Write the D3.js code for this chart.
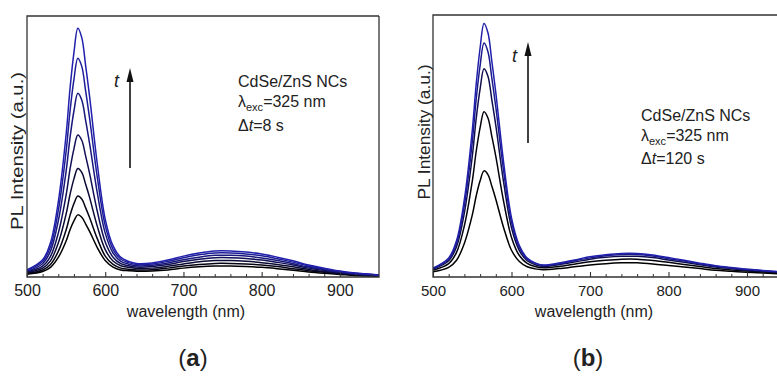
<!DOCTYPE html>
<html>
<head>
<meta charset="utf-8">
<script src="https://cdn.jsdelivr.net/npm/d3@7"></script>
<style>
  html, body { margin: 0; padding: 0; background: #fff; overflow: hidden; }
  svg { display: block; }
  text { font-family: "Liberation Sans", Arial, sans-serif; fill: #222; }
</style>
</head>
<body>
<svg id="chart" width="777" height="376"></svg>
<script>
// Sampled wavelengths (nm) shared by every spectrum
const wavelength = [500, 520, 530, 540, 550, 555, 560, 565, 570, 575, 580, 590, 600, 610, 620, 630, 640,
                    660, 680, 700, 720, 740, 760, 780, 800, 820, 840, 860, 880, 900, 920, 950];

// (a) PL spectra, dt = 8 s, first scan to last scan (a.u.)
const a_scan1 = [1.1, 2.1, 3.7, 7.5, 13.8, 18.1, 21.5, 23.8, 22.9, 20.3, 17.5, 11.2, 6.3, 3.8, 2.7, 2.4, 2.2,
                 2.3, 2.7, 3.4, 3.9, 4.2, 4.2, 4.0, 3.7, 3.2, 2.6, 1.9, 1.4, 1.0, 0.6, 0.3];
const a_scan2 = [1.4, 2.7, 4.8, 9.8, 18.0, 23.6, 28.1, 31.0, 29.9, 26.5, 22.8, 14.6, 8.0, 4.8, 3.4, 3.0, 2.7,
                 2.8, 3.4, 4.2, 4.8, 5.2, 5.2, 5.0, 4.6, 4.0, 3.2, 2.4, 1.8, 1.2, 0.8, 0.4];
const a_scan3 = [1.7, 3.4, 6.2, 13.0, 24.1, 31.6, 37.6, 41.6, 40.1, 35.5, 30.5, 19.3, 10.5, 6.1, 4.3, 3.7, 3.3,
                 3.4, 4.1, 5.0, 5.8, 6.3, 6.3, 6.0, 5.5, 4.8, 3.9, 2.9, 2.1, 1.4, 0.9, 0.5];
const a_scan4 = [2.0, 4.2, 7.9, 16.8, 31.4, 41.3, 49.1, 54.4, 52.4, 46.3, 39.7, 25.0, 13.4, 7.6, 5.1, 4.3, 3.8,
                 4.0, 4.8, 5.9, 6.8, 7.4, 7.4, 7.1, 6.5, 5.6, 4.6, 3.4, 2.5, 1.7, 1.1, 0.6];
const a_scan5 = [2.2, 5.1, 9.9, 21.5, 40.5, 53.4, 63.6, 70.4, 67.8, 59.9, 51.2, 32.0, 16.8, 9.2, 6.0, 4.9, 4.3,
                 4.5, 5.4, 6.6, 7.6, 8.3, 8.3, 8.0, 7.3, 6.3, 5.1, 3.8, 2.8, 1.9, 1.2, 0.7];
const a_scan6 = [2.5, 5.9, 11.6, 25.4, 48.1, 63.5, 75.7, 83.8, 80.7, 71.2, 60.9, 37.9, 19.7, 10.6, 6.8, 5.5, 4.8,
                 5.0, 6.0, 7.4, 8.5, 9.2, 9.2, 8.8, 8.1, 7.0, 5.7, 4.2, 3.1, 2.1, 1.4, 0.7];
const a_scan7 = [2.7, 6.6, 13.1, 28.8, 54.6, 72.2, 86.0, 95.3, 91.7, 80.9, 69.2, 43.0, 22.2, 11.9, 7.5, 6.0, 5.2,
                 5.4, 6.5, 8.0, 9.2, 10.0, 10.0, 9.6, 8.8, 7.6, 6.2, 4.6, 3.4, 2.3, 1.5, 0.8];

// (b) PL spectra, dt = 120 s, first scan to last scan (a.u.)
const b_scan1 = [2.0, 3.7, 6.4, 12.9, 23.6, 30.9, 36.7, 40.5, 39.1, 34.6, 29.7, 18.8, 10.2, 5.9, 3.9, 3.1, 2.8,
                 3.2, 3.9, 4.6, 5.1, 5.4, 5.4, 5.0, 4.4, 3.8, 3.2, 2.6, 2.2, 1.8, 1.5, 1.1];
const b_scan2 = [2.6, 5.1, 9.4, 19.6, 36.5, 47.9, 57.0, 63.1, 60.7, 53.6, 46.0, 28.8, 15.1, 8.2, 5.2, 4.0, 3.5,
                 4.0, 4.9, 5.8, 6.4, 6.8, 6.8, 6.3, 5.6, 4.8, 4.0, 3.2, 2.7, 2.3, 1.9, 1.4];
const b_scan3 = [3.0, 6.2, 11.6, 24.6, 45.9, 60.4, 71.8, 79.5, 76.6, 67.5, 57.9, 36.1, 18.8, 10.1, 6.2, 4.7, 4.0,
                 4.7, 5.7, 6.8, 7.5, 7.9, 7.9, 7.4, 6.5, 5.6, 4.7, 3.8, 3.2, 2.6, 2.2, 1.7];
const b_scan4 = [3.2, 6.8, 12.9, 27.5, 51.5, 67.8, 80.7, 89.3, 86.0, 75.8, 64.9, 40.4, 21.0, 11.2, 6.8, 5.2, 4.4,
                 5.0, 6.2, 7.3, 8.1, 8.6, 8.6, 8.0, 7.0, 6.1, 5.0, 4.1, 3.4, 2.9, 2.4, 1.8];
const b_scan5 = [3.4, 7.3, 13.9, 29.7, 55.8, 73.5, 87.4, 96.8, 93.2, 82.2, 70.4, 43.7, 22.6, 12.0, 7.2, 5.4, 4.6,
                 5.3, 6.5, 7.7, 8.5, 9.0, 9.0, 8.4, 7.4, 6.4, 5.3, 4.3, 3.6, 3.0, 2.5, 1.9];

// Axis ticks
const majorTicks = [500, 600, 700, 800, 900];
const minorTicks = [520, 540, 560, 580, 620, 640, 660, 680, 720, 740, 760, 780, 820, 840, 860, 880, 920, 940];

const svg = d3.select("#chart");
const BLUE = "#2020ac";

const panels = [
  {
    id: "a", scans: [a_scan1, a_scan2, a_scan3, a_scan4, a_scan5, a_scan6, a_scan7],
    mix: [0, 0.12, 0.3, 0.5, 0.72, 0.88, 1],
    left: 27, right: 379, top: 16, bottom: 277,
    ylabel: { x: 17, y: 151, len: 158 },
    xlabelX: 186, tickFont: 16,
    arrow: { x: 130, y0: 168, y1: 68 }, tLabel: { x: 114, y: 87 },
    info: { x: 238, y: [87, 107, 131], dt: "=8 s" },
    tag: { x: 193, text: "a" }, rightOpen: false
  },
  {
    id: "b", scans: [b_scan1, b_scan2, b_scan3, b_scan4, b_scan5],
    mix: [0, 0.08, 0.45, 0.82, 1],
    left: 433, right: 433 + 4.5 * 78.5, top: 15, bottom: 277,
    ylabel: { x: 424, y: 132, len: 135 },
    xlabelX: 594, tickFont: 15,
    arrow: { x: 528, y0: 143, y1: 42 }, tLabel: { x: 512, y: 62 },
    info: { x: 641, y: [121, 141, 164], dt: "=120 s" },
    tag: { x: 588, text: "b" }, rightOpen: true
  }
];

panels.forEach(p => {
  const g = svg.append("g").attr("class", "panel-" + p.id);
  const x = d3.scaleLinear().domain([500, 950]).range([p.left, p.right]);
  const y = d3.scaleLinear().domain([0, 100]).range([p.bottom, p.top]);

  // clip spectra to the plot frame
  g.append("clipPath").attr("id", "clip-" + p.id)
    .append("rect").attr("x", p.left).attr("y", p.top)
    .attr("width", p.right - p.left).attr("height", p.bottom - p.top);

  const line = d3.line()
    .x((d, i) => x(wavelength[i]))
    .y(d => y(d))
    .curve(d3.curveCatmullRom.alpha(0.5));

  const colour = d3.interpolateRgb("#000000", BLUE);
  g.append("g").attr("clip-path", `url(#clip-${p.id})`)
    .selectAll("path").data(p.scans).join("path")
    .attr("d", d => line(d))
    .attr("fill", "none")
    .attr("stroke", (d, i) => colour(p.mix[i]))
    .attr("stroke-width", 1.5)
    .attr("stroke-linejoin", "round");

  // frame
  g.append("path")
    .attr("d", `M${p.right},${p.top}H${p.left}V${p.bottom}H${p.right}` + (p.rightOpen ? "" : `V${p.top}`))
    .attr("fill", "none").attr("stroke", "#333").attr("stroke-width", 1.3);

  // bottom axis: major and minor inward ticks
  const axMajor = d3.axisBottom(x).tickValues(majorTicks).tickSize(-5).tickPadding(8)
    .tickFormat(d3.format("d"));
  const gx = g.append("g").attr("transform", `translate(0,${p.bottom})`).call(axMajor);
  gx.select(".domain").remove();
  gx.selectAll("line").attr("stroke", "#333").attr("stroke-width", 1.1);
  gx.selectAll("text").attr("font-size", p.tickFont)
    .attr("font-family", "Liberation Sans, Arial, sans-serif").attr("fill", "#222");

  const axMinor = d3.axisBottom(x).tickValues(minorTicks).tickSize(-3).tickFormat("");
  const gm = g.append("g").attr("transform", `translate(0,${p.bottom})`).call(axMinor);
  gm.select(".domain").remove();
  gm.selectAll("line").attr("stroke", "#333").attr("stroke-width", 1);

  // axis titles
  g.append("text")
    .attr("transform", `translate(${p.ylabel.x},${p.ylabel.y}) rotate(-90)`)
    .attr("text-anchor", "middle").attr("dominant-baseline", "central")
    .attr("font-size", 16)
    .attr("textLength", p.ylabel.len).attr("lengthAdjust", "spacingAndGlyphs")
    .text("PL Intensity (a.u.)");

  g.append("text")
    .attr("x", p.xlabelX).attr("y", 317)
    .attr("text-anchor", "middle").attr("font-size", 16)
    .text("wavelength (nm)");

  // time arrow
  g.append("line")
    .attr("x1", p.arrow.x).attr("x2", p.arrow.x)
    .attr("y1", p.arrow.y0).attr("y2", p.arrow.y1 + 10)
    .attr("stroke", "#111").attr("stroke-width", 1.6);
  g.append("path")
    .attr("d", `M${p.arrow.x},${p.arrow.y1}L${p.arrow.x - 3.5},${p.arrow.y1 + 14}L${p.arrow.x + 3.5},${p.arrow.y1 + 14}Z`)
    .attr("fill", "#111");
  g.append("text")
    .attr("x", p.tLabel.x).attr("y", p.tLabel.y)
    .attr("font-size", 18).attr("font-style", "italic")
    .text("t");

  // sample annotation
  const info = g.append("g").attr("font-size", 16);
  info.append("text").attr("x", p.info.x).attr("y", p.info.y[0]).text("CdSe/ZnS NCs");
  const l2 = info.append("text").attr("x", p.info.x).attr("y", p.info.y[1]);
  l2.append("tspan").text("λ");
  l2.append("tspan").attr("font-size", 11).attr("dy", 4).text("exc");
  l2.append("tspan").attr("dy", -4).text("=325 nm");
  const l3 = info.append("text").attr("x", p.info.x).attr("y", p.info.y[2]);
  l3.append("tspan").text("Δ");
  l3.append("tspan").attr("font-style", "italic").text("t");
  l3.append("tspan").text(p.info.dt);

  // panel tag
  const tag = g.append("text")
    .attr("x", p.tag.x).attr("y", 366)
    .attr("text-anchor", "middle")
    .attr("font-family", "'Liberation Serif', 'DejaVu Serif', serif")
    .attr("font-size", 24).attr("fill", "#111");
  tag.append("tspan").text("(");
  tag.append("tspan").attr("font-weight", "bold").text(p.tag.text);
  tag.append("tspan").text(")");
});
</script>
</body>
</html>
